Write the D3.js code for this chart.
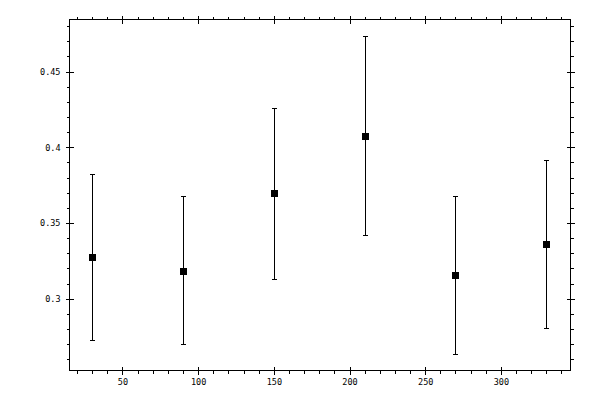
<!DOCTYPE html>
<html>
<head>
<meta charset="utf-8">
<script src="https://cdn.jsdelivr.net/npm/d3@7"></script>
<style>
  body { margin: 0; background: #fff; }
  svg text { font-family: "DejaVu Sans Mono", monospace; font-size: 8.5px; fill: #000; }
</style>
</head>
<body>
<script>
// data
const xs = [30, 90, 150, 210, 270, 330];
const means = [0.3278, 0.3185, 0.3701, 0.4077, 0.3159, 0.3364];
const lows = [0.2729, 0.2698, 0.3132, 0.3423, 0.2636, 0.2808];
const highs = [0.3823, 0.3681, 0.4260, 0.4738, 0.3681, 0.3916];
const xTicks = [50, 100, 150, 200, 250, 300];
const yTicks = [0.3, 0.35, 0.4, 0.45];

const W = 600, H = 400;
const L = 69.5, R = 570.5, T = 19.5, B = 370.5;

const svg = d3.select('body').append('svg')
              .attr('width', W).attr('height', H)
              .attr('shape-rendering', 'crispEdges');

const x = d3.scaleLinear().domain([15, 346]).range([L, R]);
const y = d3.scaleLinear().domain([0.2526, 0.4844]).range([B, T]);

// frame
svg.append('rect').attr('x', L).attr('y', T).attr('width', R - L).attr('height', B - T)
   .attr('fill', 'none').attr('stroke', 'black');

const xMinor = d3.range(20, 346, 10);
const yMinor = d3.range(0.26, 0.485, 0.01);

function ticks(g, gen, vals, size, fmt) {
  g.call(gen.tickValues(vals).tickSize(size).tickSizeOuter(0).tickFormat(fmt));
  g.select('.domain').remove();
  g.selectAll('line').attr('stroke', 'black');
  return g;
}

// minor ticks, outward, on all four sides
ticks(svg.append('g').attr('transform', `translate(0,${B})`), d3.axisBottom(x), xMinor, 3, '');
ticks(svg.append('g').attr('transform', `translate(0,${T})`), d3.axisTop(x), xMinor, 3, '');
ticks(svg.append('g').attr('transform', `translate(${L},0)`), d3.axisLeft(y), yMinor, 3, '');
ticks(svg.append('g').attr('transform', `translate(${R},0)`), d3.axisRight(y), yMinor, 3, '');

// major ticks cross the frame
const xb = ticks(svg.append('g').attr('transform', `translate(0,${B})`), d3.axisBottom(x), xTicks, 4, d3.format('d'));
xb.selectAll('line').attr('y1', -4);
xb.selectAll('text').attr('y', 8).attr('dy', '0.71em');
const xt = ticks(svg.append('g').attr('transform', `translate(0,${T})`), d3.axisTop(x), xTicks, 4, '');
xt.selectAll('line').attr('y1', 4);

const yl = ticks(svg.append('g').attr('transform', `translate(${L},0)`), d3.axisLeft(y), yTicks, 4, d3.format(''));
yl.selectAll('line').attr('x1', 4);
yl.selectAll('text').attr('x', -9);
const yr = ticks(svg.append('g').attr('transform', `translate(${R},0)`), d3.axisRight(y), yTicks, 4, '');
yr.selectAll('line').attr('x1', -4);

svg.selectAll('text').attr('shape-rendering', null);

// error bars
const bars = svg.append('g').attr('stroke', 'black');
bars.selectAll('line.v').data(xs).join('line').attr('class', 'v')
    .attr('x1', d => Math.round(x(d)) + 0.5).attr('x2', d => Math.round(x(d)) + 0.5)
    .attr('y1', (d, i) => y(lows[i])).attr('y2', (d, i) => y(highs[i]));
bars.selectAll('line.hi').data(xs).join('line').attr('class', 'hi')
    .attr('x1', d => Math.round(x(d)) - 2).attr('x2', d => Math.round(x(d)) + 3)
    .attr('y1', (d, i) => Math.round(y(highs[i])) + 0.5).attr('y2', (d, i) => Math.round(y(highs[i])) + 0.5);
bars.selectAll('line.lo').data(xs).join('line').attr('class', 'lo')
    .attr('x1', d => Math.round(x(d)) - 2).attr('x2', d => Math.round(x(d)) + 3)
    .attr('y1', (d, i) => Math.round(y(lows[i])) + 0.5).attr('y2', (d, i) => Math.round(y(lows[i])) + 0.5);

// square markers
svg.append('g').selectAll('rect').data(xs).join('rect')
   .attr('x', d => Math.round(x(d)) - 3).attr('y', (d, i) => Math.round(y(means[i])) - 3)
   .attr('width', 7).attr('height', 7).attr('fill', 'black');
</script>
</body>
</html>
